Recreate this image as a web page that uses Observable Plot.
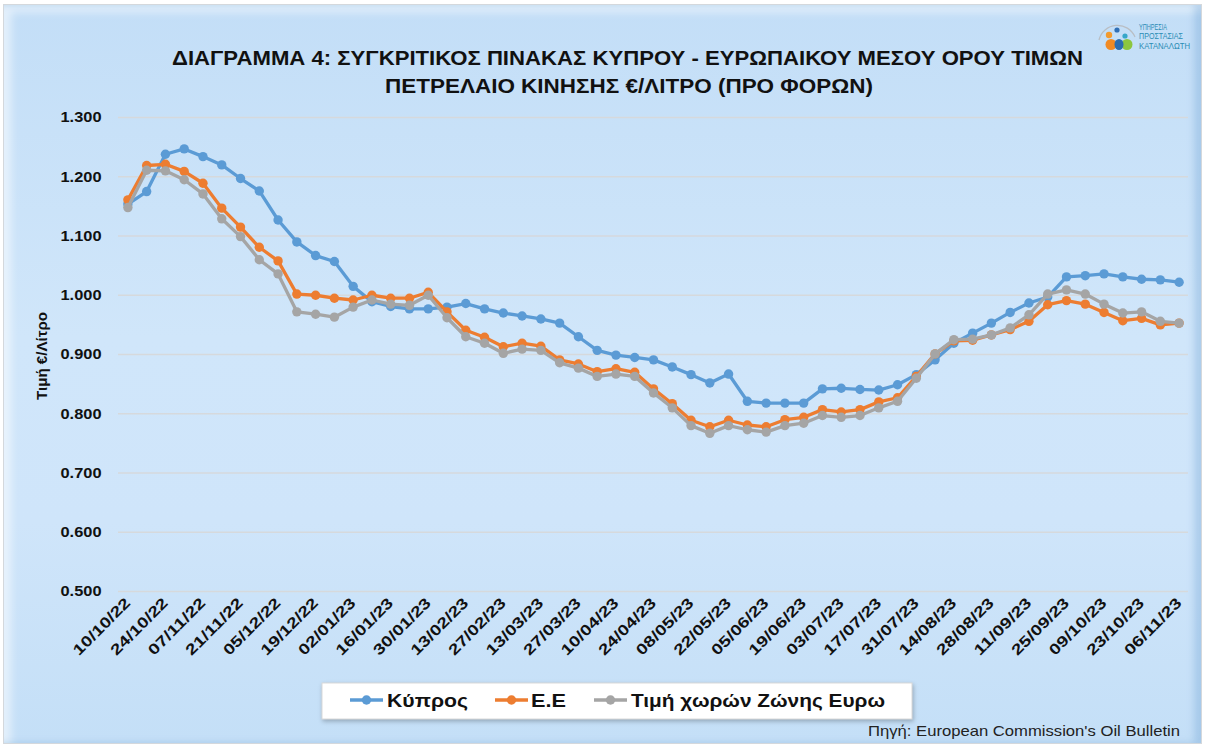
<!DOCTYPE html>
<html>
<head>
<meta charset="utf-8">
<script src="https://cdn.jsdelivr.net/npm/d3@7"></script>
<script src="https://cdn.jsdelivr.net/npm/@observablehq/plot@0.6"></script>
<style>
  html, body { margin: 0; padding: 0; background: #ffffff; }
  #wrap { position: relative; width: 1206px; height: 744px; overflow: hidden; font-family: "Liberation Sans", Arial, sans-serif; }
  #bg { position: absolute; left: 3px; top: 4px; width: 1197px; height: 738px;
        background: linear-gradient(to bottom, #c3def7 0%, #d0e6fa 45%, #cfe5fa 70%, #c4dff7 100%);
        border: 1px solid #d4d8dc;
        box-shadow: inset -7px 0 7px rgba(110,160,210,0.35), inset 7px 7px 8px rgba(255,255,255,0.55); }
  #plot { position: absolute; left: 0; top: 0; }
  #overlay { position: absolute; left: 0; top: 0; pointer-events: none; }
</style>
</head>
<body>
<div id="wrap">
  <div id="bg"></div>
  <div id="plot"></div>
  <svg id="overlay" width="1206" height="744"></svg>
</div>
<script>
// ---- data ----
const dates = ["10/10/22","17/10/22","24/10/22","31/10/22","07/11/22","14/11/22","21/11/22","28/11/22","05/12/22","12/12/22","19/12/22","26/12/22","02/01/23","09/01/23","16/01/23","23/01/23","30/01/23","06/02/23","13/02/23","20/02/23","27/02/23","06/03/23","13/03/23","20/03/23","27/03/23","03/04/23","10/04/23","17/04/23","24/04/23","01/05/23","08/05/23","15/05/23","22/05/23","29/05/23","05/06/23","12/06/23","19/06/23","26/06/23","03/07/23","10/07/23","17/07/23","24/07/23","31/07/23","07/08/23","14/08/23","21/08/23","28/08/23","04/09/23","11/09/23","18/09/23","25/09/23","02/10/23","09/10/23","16/10/23","23/10/23","30/10/23","06/11/23"];

const tickDates = ["10/10/22","24/10/22","07/11/22","21/11/22","05/12/22","19/12/22","02/01/23","16/01/23","30/01/23","13/02/23","27/02/23","13/03/23","27/03/23","10/04/23","24/04/23","08/05/23","22/05/23","05/06/23","19/06/23","03/07/23","17/07/23","31/07/23","14/08/23","28/08/23","11/09/23","25/09/23","09/10/23","23/10/23","06/11/23"];

const yTicks = [0.5, 0.6, 0.7, 0.8, 0.9, 1.0, 1.1, 1.2, 1.3];

const cyprus = [1.154,1.175,1.238,1.247,1.234,1.220,1.197,1.176,1.127,1.090,1.067,1.057,1.015,0.989,0.981,0.977,0.977,0.980,0.986,0.977,0.970,0.965,0.960,0.953,0.930,0.907,0.899,0.895,0.891,0.879,0.866,0.852,0.867,0.821,0.818,0.818,0.818,0.842,0.843,0.841,0.840,0.849,0.866,0.891,0.919,0.936,0.953,0.971,0.987,0.997,1.031,1.033,1.036,1.031,1.027,1.026,1.022];

const eu = [1.161,1.219,1.221,1.209,1.189,1.147,1.115,1.081,1.058,1.002,1.000,0.995,0.992,1.000,0.995,0.995,1.005,0.972,0.941,0.929,0.913,0.919,0.914,0.891,0.884,0.871,0.876,0.870,0.842,0.817,0.789,0.778,0.789,0.781,0.778,0.790,0.794,0.807,0.803,0.807,0.820,0.827,0.863,0.901,0.923,0.924,0.933,0.942,0.956,0.984,0.991,0.985,0.971,0.957,0.961,0.950,0.953];

const euroZone = [1.148,1.211,1.210,1.195,1.171,1.129,1.099,1.060,1.036,0.972,0.968,0.963,0.980,0.992,0.985,0.983,1.000,0.962,0.930,0.919,0.902,0.909,0.907,0.886,0.877,0.863,0.867,0.863,0.835,0.810,0.780,0.767,0.780,0.773,0.769,0.780,0.784,0.797,0.794,0.797,0.810,0.821,0.860,0.901,0.925,0.926,0.933,0.945,0.967,1.002,1.009,1.002,0.985,0.970,0.972,0.956,0.953];

const seriesNames = ["Κύπρος", "Ε.Ε", "Τιμή χωρών Ζώνης Ευρω"];
const seriesColors = ["#5B9BD5", "#ED7D31", "#A5A5A5"];

// ---- build table ----
const seriesValues = [cyprus, eu, euroZone];
const rows = [];
seriesValues.forEach((vals, s) => vals.forEach((v, i) => rows.push({date: dates[i], value: v, series: seriesNames[s]})));

const font = "'Liberation Sans', Arial, sans-serif";

const marks = [
  Plot.gridY(yTicks, {stroke: "#d6d9dc", strokeOpacity: 1, strokeWidth: 1.6}),
  Plot.axisY(yTicks, {tickSize: 0, tickPadding: 17, tickFormat: d => d.toFixed(3), fontWeight: "bold", fontSize: 15, fill: "#111", label: null}),
  Plot.axisX(tickDates, {tickSize: 0, tickPadding: 9, tickRotate: -45, fontWeight: "bold", fontSize: 15, fill: "#111", label: null})
];
seriesNames.forEach((name, s) => {
  const data = rows.filter(r => r.series === name);
  marks.push(Plot.line(data, {x: "date", y: "value", stroke: seriesColors[s], strokeWidth: 3.3}));
  marks.push(Plot.dot(data, {x: "date", y: "value", fill: seriesColors[s], r: 4.7, stroke: "none"}));
});

const chart = Plot.plot({
  width: 1206,
  height: 680,
  marginLeft: 118,
  marginRight: 18,
  marginTop: 117,
  marginBottom: 89,
  style: {background: "transparent", fontFamily: font, overflow: "visible"},
  x: {type: "point", domain: dates, padding: 0.5, label: null},
  y: {domain: [0.5, 1.3], label: null},
  marks
});
document.getElementById("plot").appendChild(chart);

// condense tick labels to the reference's narrow bold face
chart.querySelectorAll('g[aria-label="x-axis tick label"] text').forEach(t => {
  t.setAttribute("textLength", 74); t.setAttribute("lengthAdjust", "spacingAndGlyphs");
});
chart.querySelectorAll('g[aria-label="y-axis tick label"] text').forEach(t => {
  t.setAttribute("textLength", 41); t.setAttribute("lengthAdjust", "spacingAndGlyphs");
});

// ---- overlay texts: title, axis title, legend, source, logo ----
const ov = d3.select("#overlay");
const titleFont = "'Liberation Sans', Arial, sans-serif";
function txt(t, x, y, opts) {
  const el = ov.append("text").attr("x", x).attr("y", y).text(t)
    .attr("font-family", opts.family || titleFont)
    .attr("font-size", opts.size)
    .attr("font-weight", opts.weight || "normal")
    .attr("fill", opts.fill || "#111");
  if (opts.len) el.attr("textLength", opts.len).attr("lengthAdjust", "spacingAndGlyphs");
  if (opts.anchor) el.attr("text-anchor", opts.anchor);
  if (opts.transform) el.attr("transform", opts.transform);
  return el;
}
txt("ΔΙΑΓΡΑΜΜΑ 4: ΣΥΓΚΡΙΤΙΚΟΣ ΠΙΝΑΚΑΣ ΚΥΠΡΟΥ - ΕΥΡΩΠΑΙΚΟΥ ΜΕΣΟΥ ΟΡΟΥ ΤΙΜΩΝ", 172, 65, {size: 20, weight: "bold", len: 911});
txt("ΠΕΤΡΕΛΑΙΟ ΚΙΝΗΣΗΣ €/ΛΙΤΡΟ (ΠΡΟ ΦΟΡΩΝ)", 385, 93, {size: 20, weight: "bold", len: 488});

// y axis title
txt("Τιμή €/Λίτρο", 0, 0, {size: 14, weight: "bold", anchor: "middle", len: 88, transform: "translate(47,356) rotate(-90)"});

// legend
ov.append("rect").attr("x", 322).attr("y", 683).attr("width", 590).attr("height", 36)
  .attr("fill", "#ffffff").attr("stroke", "#d9d9d9").attr("stroke-width", 1)
  .style("filter", "drop-shadow(1px 2px 2px rgba(0,0,0,0.25))");
const legendItems = [
  {x0: 350, tx: 387, len: 81},
  {x0: 495, tx: 531, len: 35},
  {x0: 594, tx: 631, len: 254}
];
legendItems.forEach((it, s) => {
  ov.append("line").attr("x1", it.x0).attr("x2", it.x0 + 33).attr("y1", 700).attr("y2", 700)
    .attr("stroke", seriesColors[s]).attr("stroke-width", 3.3);
  ov.append("circle").attr("cx", it.x0 + 16.5).attr("cy", 700).attr("r", 4.7).attr("fill", seriesColors[s]);
  txt(seriesNames[s], it.tx, 707, {size: 19, weight: "bold", len: it.len});
});

// source
txt("Πηγή: European Commission's Oil Bulletin", 868, 736, {size: 15, len: 312, fill: "#222"});

// logo
const lg = ov.append("g");
lg.append("path").attr("d", "M1099,40 A19,19 0 0 1 1135,37").attr("fill", "none").attr("stroke", "#b9bec4").attr("stroke-width", 1.2);
lg.append("circle").attr("cx", 1117).attr("cy", 30).attr("r", 2.6).attr("fill", "#2f6fb5");
lg.append("circle").attr("cx", 1109).attr("cy", 35).attr("r", 3.2).attr("fill", "#f29a2e");
lg.append("circle").attr("cx", 1125).attr("cy", 36).attr("r", 2.6).attr("fill", "#37a7c9");
lg.append("ellipse").attr("cx", 1111).attr("cy", 44.5).attr("rx", 5.5).attr("ry", 5.5).attr("fill", "#f08a24");
lg.append("ellipse").attr("cx", 1127).attr("cy", 44.5).attr("rx", 5.5).attr("ry", 5.5).attr("fill", "#8cc63f");
lg.append("ellipse").attr("cx", 1119).attr("cy", 44.5).attr("rx", 4.5).attr("ry", 5.5).attr("fill", "#2a6db0");
const logoLines = ["ΥΠΗΡΕΣΙΑ", "ΠΡΟΣΤΑΣΙΑΣ", "ΚΑΤΑΝΑΛΩΤΗ"];
const logoLens = [28, 44, 51];
logoLines.forEach((t, i) => txt(t, 1139, 29.5 + i * 9.7, {size: 9, fill: "#2a8cb5", len: logoLens[i]}));
</script>
</body>
</html>
